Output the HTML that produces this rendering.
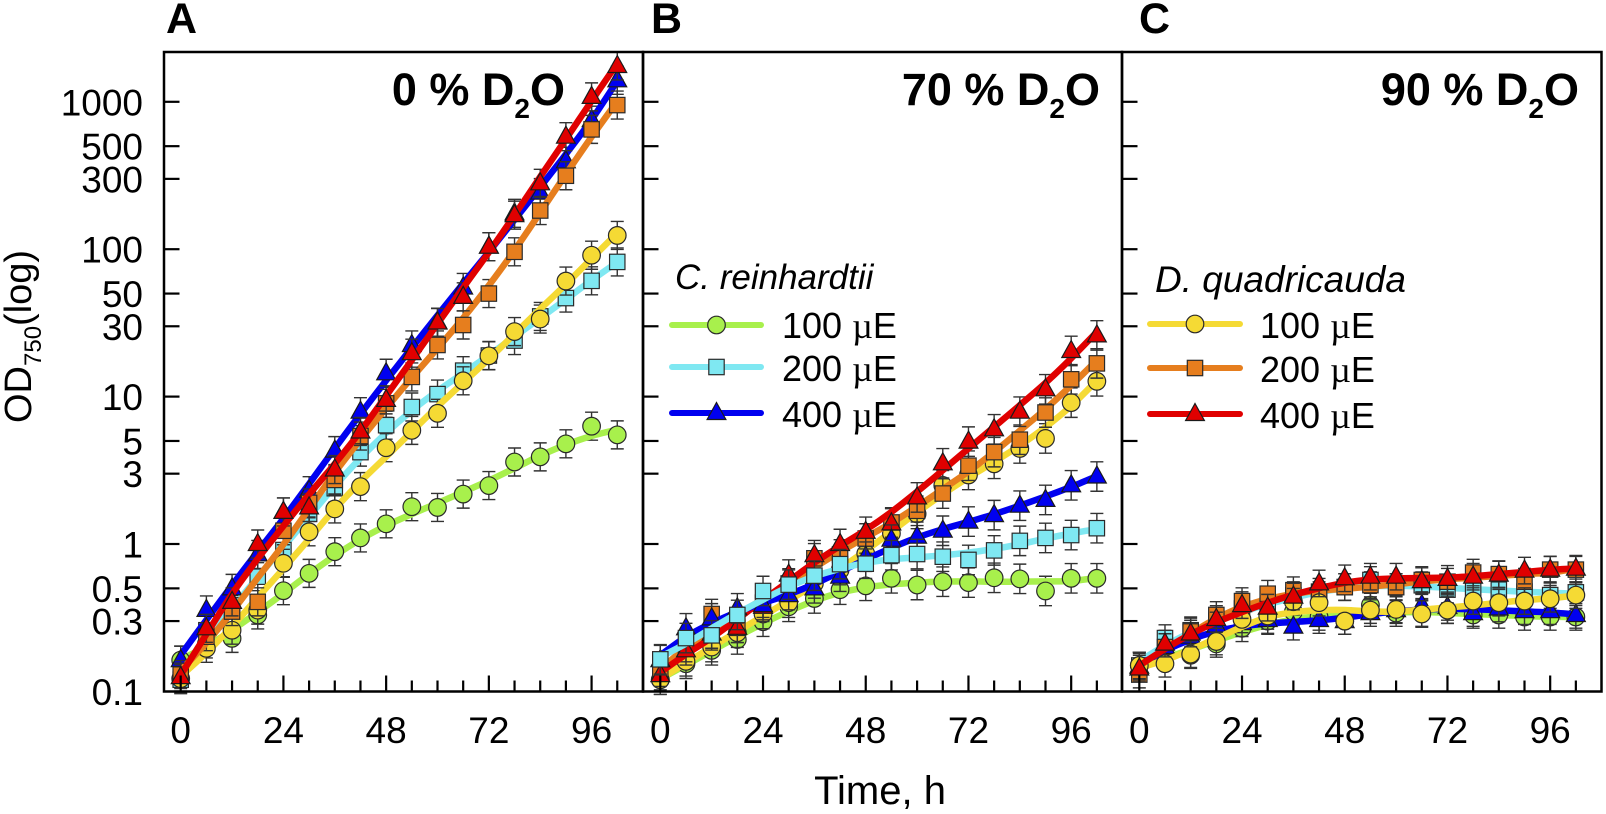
<!DOCTYPE html>
<html>
<head>
<meta charset="utf-8">
<title>Growth curves at 0, 70 and 90 % D2O</title>
<style>
html,body{margin:0;padding:0;background:#fff;width:1606px;height:814px;overflow:hidden}
svg{display:block}
text{font-family:"Liberation Sans",Arial,sans-serif;fill:#000}
</style>
</head>
<body>
<svg id="chart" width="1606" height="814" viewBox="0 0 1606 814" xmlns="http://www.w3.org/2000/svg"></svg>
<script>
// ---------- data ----------
const hours = [0,6,12,18,24,30,36,42,48,54,60,66,72,78,84,90,96,102];
const yTickValues = [0.1,0.3,0.5,1,3,5,10,30,50,100,300,500,1000];
const yTickLabels = ["0.1","0.3","0.5","1","3","5","10","30","50","100","300","500","1000"];
const xTickValues = [0,6,12,18,24,30,36,42,48,54,60,66,72,78,84,90,96,102];
const xMajorLabels = ["0","24","48","72","96"];
const lightLabels = ["100 µE","200 µE","400 µE"];

const a_green  = [0.163,0.21,0.229,0.33,0.482,0.632,0.887,1.10,1.37,1.79,1.77,2.18,2.49,3.6,3.9,4.78,6.3,5.5];
const a_cyan   = [0.12,0.26,0.36,0.6,0.91,1.6,2.39,4.2,6.4,8.5,10.4,15,19,24,35,46.6,61,82];
const a_blue   = [0.163,0.357,0.5,0.85,1.65,2.3,4.3,7.9,14.4,22.4,32,55,104,175,242,395,750,1400];
const a_yellow = [0.122,0.196,0.26,0.356,0.74,1.21,1.73,2.45,4.5,5.9,7.7,12.8,18.9,27.6,33.6,60.8,91,124];
const a_orange = [0.13,0.235,0.348,0.405,1.23,1.9,2.72,5.4,9,13.6,22.4,30.6,50,96,183,315,650,950];
const a_red    = [0.125,0.268,0.405,1.0,1.65,1.77,3.2,5.8,9.5,19.7,31.8,47.5,104,170,280,580,1080,1750];

const b_green  = [0.12,0.154,0.19,0.225,0.297,0.375,0.427,0.49,0.52,0.585,0.527,0.555,0.547,0.59,0.58,0.48,0.585,0.585];
const b_yellow = [0.12,0.16,0.2,0.25,0.335,0.4,0.54,0.665,0.86,1.18,1.6,2.5,2.94,3.5,4.45,5.2,9.1,12.7];
const b_orange = [0.136,0.2,0.335,0.27,0.4,0.54,0.8,0.85,1.09,1.4,1.68,2.2,3.4,4.2,5.1,7.8,13.1,16.8];
const b_red    = [0.129,0.19,0.247,0.27,0.375,0.62,0.84,1,1.21,1.38,2.07,3.53,4.95,6,7.9,11.2,20.4,26];
const b_blue   = [0.163,0.268,0.313,0.366,0.385,0.45,0.5,0.6,0.82,1.07,1.12,1.23,1.42,1.57,1.82,1.99,2.5,2.87];
const b_cyan   = [0.165,0.23,0.24,0.33,0.48,0.53,0.61,0.73,0.735,0.84,0.855,0.82,0.78,0.905,1.05,1.1,1.15,1.28];

const c_green  = [0.15,0.18,0.176,0.21,0.268,0.3,0.347,0.32,0.3,0.385,0.34,0.34,0.356,0.33,0.33,0.32,0.32,0.32];
const c_cyan   = [0.15,0.23,0.26,0.3,0.365,0.385,0.45,0.475,0.51,0.57,0.51,0.525,0.49,0.5,0.49,0.475,0.45,0.47];
const c_orange = [0.13,0.2,0.255,0.33,0.41,0.46,0.486,0.45,0.51,0.526,0.51,0.57,0.555,0.64,0.625,0.555,0.67,0.67];
const c_blue   = [0.147,0.2,0.235,0.28,0.29,0.305,0.275,0.305,0.3,0.34,0.356,0.385,0.374,0.34,0.365,0.35,0.35,0.33];
const c_yellow = [0.15,0.154,0.179,0.218,0.308,0.325,0.406,0.4,0.3,0.356,0.36,0.335,0.356,0.41,0.4,0.41,0.425,0.45];
const c_red    = [0.143,0.211,0.247,0.31,0.385,0.37,0.44,0.54,0.585,0.6,0.6,0.56,0.58,0.6,0.62,0.66,0.67,0.68];

// relative spread of the error bars (as a log10 half width)
const errA = 0.095, errB = 0.1, errC = 0.09;

// ---------- styling / layout ----------
const COL = {green:"#a8f04c",cyan:"#7fe8f2",blue:"#0000f0",yellow:"#f5da34",orange:"#e67e1e",red:"#e00000"};
const SHAPE = {green:"circle",cyan:"square",blue:"triangle",yellow:"circle",orange:"square",red:"triangle"};
const TOP = 52, BOTTOM = 691.5, YONE = 544, DECADE = 147.4, XSCALE = 4.28;
const panels = [
 {id:"a",letter:"A",left:164,right:643,x0:180.7,letterX:166,err:errA,titleNum:"0",titleEnd:565,
  series:[["green",a_green],["cyan",a_cyan],["blue",a_blue],["yellow",a_yellow],["orange",a_orange],["red",a_red]]},
 {id:"b",letter:"B",left:643,right:1122,x0:660.3,letterX:651,err:errB,titleNum:"70",titleEnd:1100,
  series:[["green",b_green],["yellow",b_yellow],["orange",b_orange],["red",b_red],["blue",b_blue],["cyan",b_cyan]]},
 {id:"c",letter:"C",left:1122,right:1601.5,x0:1139.3,letterX:1139,err:errC,titleNum:"90",titleEnd:1579,
  series:[["green",c_green],["cyan",c_cyan],["orange",c_orange],["blue",c_blue],["yellow",c_yellow],["red",c_red]]}
];

const svg = document.getElementById("chart");
const NS = "http://www.w3.org/2000/svg";
function mk(tag, attrs, parent){
  const e = document.createElementNS(NS, tag);
  for (const k in attrs) e.setAttribute(k, attrs[k]);
  (parent || svg).appendChild(e);
  return e;
}
function yScale(v){ return YONE - DECADE * Math.log10(v); }
function xScale(p, h){ return p.x0 + XSCALE * h; }

// local linear regression in log space: keeps straight trends straight and ends on target
function smooth(vals){
  const l = vals.map(v => Math.log10(v));
  const H = 4;
  return l.map((_, i) => {
    let sw=0, sx=0, sy=0, sxx=0, sxy=0;
    for (let j = Math.max(0,i-H+1); j <= Math.min(l.length-1,i+H-1); j++){
      const d = Math.abs(j-i)/H, w = Math.pow(1-d*d*d,3), x = j-i;
      sw+=w; sx+=w*x; sy+=w*l[j]; sxx+=w*x*x; sxy+=w*x*l[j];
    }
    const den = sw*sxx - sx*sx;
    const a = den ? (sy*sxx - sx*sxy)/den : sy/sw;
    return Math.pow(10, a);
  });
}
function curvePath(p, vals){
  const pts = smooth(vals).map((v,i) => [xScale(p, hours[i]), yScale(v)]);
  let d = "M" + pts[0][0].toFixed(1) + " " + pts[0][1].toFixed(1);
  for (let i = 0; i < pts.length-1; i++){
    const a = pts[Math.max(i-1,0)], b = pts[i], c = pts[i+1], e = pts[Math.min(i+2,pts.length-1)];
    d += " C" + (b[0]+(c[0]-a[0])/6).toFixed(1) + " " + (b[1]+(c[1]-a[1])/6).toFixed(1) + " " +
         (c[0]-(e[0]-b[0])/6).toFixed(1) + " " + (c[1]-(e[1]-b[1])/6).toFixed(1) + " " +
         c[0].toFixed(1) + " " + c[1].toFixed(1);
  }
  return d;
}
function marker(g, shape, color, cx, cy){
  let m;
  if (shape === "circle"){
    m = mk("circle",{cx:cx,cy:cy,r:8.8,fill:color,stroke:"#2a2a2a","stroke-width":1.2},g);
  } else if (shape === "square"){
    m = mk("rect",{x:cx-7.7,y:cy-7.7,width:15.4,height:15.4,fill:color,stroke:"#2a2a2a","stroke-width":1.2},g);
  } else {
    const pts = [[cx,cy-10.5],[cx+9.4,cy+6.5],[cx-9.4,cy+6.5]].map(q => q[0].toFixed(1)+","+q[1].toFixed(1)).join(" ");
    m = mk("polygon",{points:pts,fill:color,stroke:"#1a1a1a","stroke-width":1.2,"stroke-linejoin":"miter"},g);
  }
  
  
  return m;
}

panels.forEach(p => {
  const g = mk("g",{});
  
  

  // series: error bars + line + markers
  p.series.forEach(s => {
    const name = s[0], vals = s[1], color = COL[name];
    const sg = mk("g",{},g);
    
    
    vals.forEach((v,i) => {
      const x = xScale(p, hours[i]);
      const yu = yScale(v * Math.pow(10, p.err)), yl = yScale(v / Math.pow(10, p.err));
      const eb = mk("path",{d:"M"+x+" "+yu+"V"+yl+"M"+(x-6.5)+" "+yu+"H"+(x+6.5)+"M"+(x-6.5)+" "+yl+"H"+(x+6.5),
        fill:"none",stroke:"#333","stroke-width":1.4},sg);
      
      
    });
    const line = mk("path",{d:curvePath(p, vals),fill:"none",stroke:color,"stroke-width":6.5,"stroke-linecap":"round","stroke-linejoin":"round"},sg);
    
    
    vals.forEach((v,i) => {
      marker(sg, SHAPE[name], color, xScale(p, hours[i]), yScale(v));
    });
  });

  // y ticks
  yTickValues.forEach((v,i) => {
    if (i === 0) return;
    const y = yScale(v);
    const t = mk("line",{x1:p.left,x2:p.left+15.5,y1:y,y2:y,stroke:"#000","stroke-width":2.2},g);
    
    
  });
  // x ticks
  xTickValues.forEach(h => {
    const major = h % 24 === 0;
    const x = xScale(p, h);
    const t = mk("line",{x1:x,x2:x,y1:BOTTOM,y2:BOTTOM-(major?16:11),stroke:"#000","stroke-width":2.2},g);
    
    
  });
  xMajorLabels.forEach((lab,i) => {
    const t = mk("text",{x:xScale(p, i*24),y:743,"text-anchor":"middle","font-size":37},g);
    t.textContent = lab;
    
    
  });

  // frame
  const frame = mk("rect",{x:p.left,y:TOP,width:p.right-p.left,height:BOTTOM-TOP,fill:"none",stroke:"#000","stroke-width":2.5},g);
  
  

  // panel letter
  const l = mk("text",{x:p.letterX,y:33,"font-size":43,"font-weight":"bold"},g);
  l.textContent = p.letter;
  
  

  // title
  const t = mk("text",{x:p.titleEnd,y:105,"text-anchor":"end","font-size":45,"font-weight":"bold"},g);
  
  
  const t1 = mk("tspan",{},t); t1.textContent = p.titleNum + " % D";
  const t2 = mk("tspan",{dy:13,"font-size":28},t); t2.textContent = "2";
  const t3 = mk("tspan",{dy:-13},t); t3.textContent = "O";
});

// y tick labels (left panel only)
yTickValues.forEach((v,i) => {
  const t = mk("text",{x:143,y:yScale(v)+13.5,"text-anchor":"end","font-size":37});
  t.textContent = yTickLabels[i];
  
  
});

// y title
const yTitle = mk("text",{transform:"translate(31,423) rotate(-90)","font-size":38});


const yt1 = mk("tspan",{},yTitle); yt1.textContent = "OD";
const yt2 = mk("tspan",{dy:10,"font-size":24},yTitle); yt2.textContent = "750";
const yt3 = mk("tspan",{dy:-10},yTitle); yt3.textContent = "(log)";

// x title
const xTitle = mk("text",{x:880,y:804,"text-anchor":"middle","font-size":40});
xTitle.textContent = "Time, h";



// legends
function legend(title, titleSize, tx, ty, lx1, lx2, ly, textX, textY, keys, lname){
  const g = mk("g",{});
  
  
  const tt = mk("text",{x:tx,y:ty,"font-size":titleSize,"font-style":"italic"},g);
  tt.textContent = title;
  
  
  keys.forEach((k,i) => {
    const e = mk("g",{},g);
    
    
    mk("line",{x1:lx1,x2:lx2,y1:ly[i],y2:ly[i],stroke:COL[k],"stroke-width":6,"stroke-linecap":"round"},e);
    marker(e, SHAPE[k], COL[k], (lx1+lx2)/2, ly[i]);
    const t = mk("text",{x:textX,y:textY[i],"font-size":36},e);
    const parts = lightLabels[i].split(" ");
    const a = mk("tspan",{},t); a.textContent = parts[0] + " ";
    const b = mk("tspan",{"font-family":"Liberation Serif, serif"},t); b.textContent = "µ";
    const c = mk("tspan",{},t); c.textContent = "E";
  });
}
legend("C. reinhardtii",35,675,289,672,761,[325,367,413],782,[338,381,427],["green","cyan","blue"],"legend-c-reinhardtii");
legend("D. quadricauda",37,1155,292,1150,1240,[324,368,414],1260,[338,382,428],["yellow","orange","red"],"legend-d-quadricauda");
</script>
</body>
</html>
